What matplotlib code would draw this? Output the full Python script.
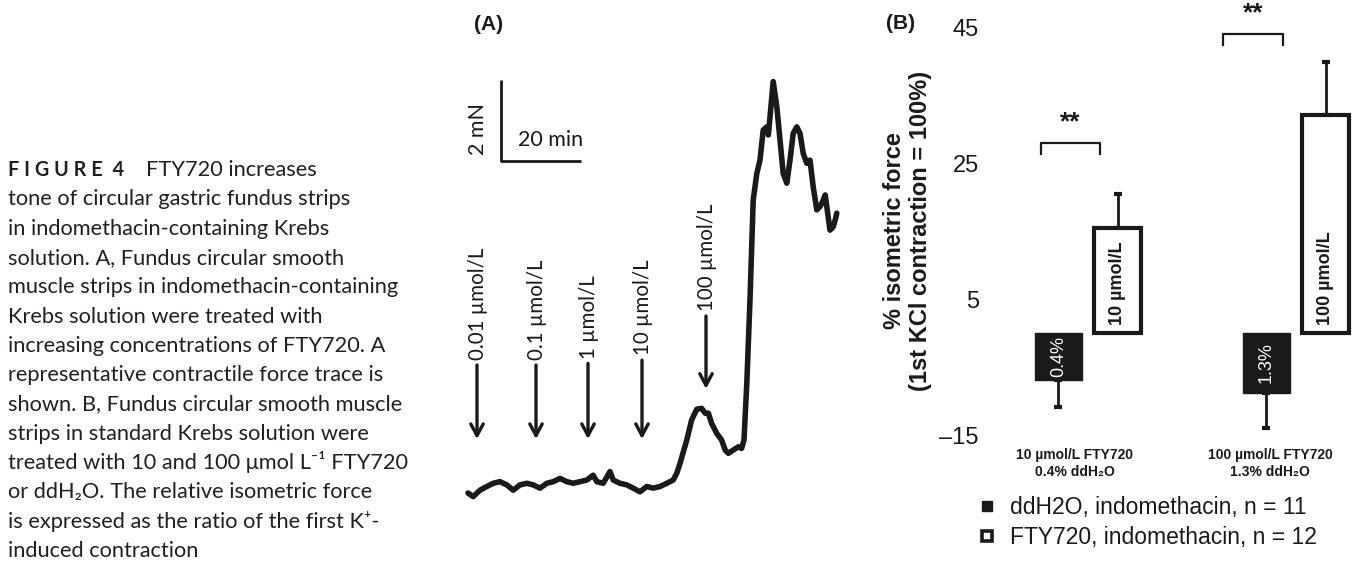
import matplotlib
matplotlib.use('Agg')
import matplotlib.pyplot as plt
from matplotlib.lines import Line2D
import numpy as np

plt.rcParams['font.family'] = ['Liberation Sans', 'DejaVu Sans']

INK = '#1a1a1a'

# ---------------- Panel A: representative contractile force trace ----------------
trace_time_min = [0.0, 1.3, 3.0, 4.7, 6.3, 8.0, 9.7, 11.3, 13.0, 14.7, 16.3, 18.0, 19.7,
                  21.3, 23.0, 24.7, 26.3, 28.0, 29.7, 31.3, 32.2, 33.8, 35.5, 36.3, 38.0,
                  39.7, 41.3, 43.0, 44.7, 46.3, 48.0, 49.7, 51.3, 52.2, 53.0, 54.7, 55.9,
                  57.2, 58.4, 59.3, 60.1, 60.9, 62.2, 63.4, 64.3, 65.1, 66.3, 67.6, 68.4,
                  69.0, 69.7, 70.5, 71.3, 72.2, 73.0, 73.8, 74.7, 75.1, 75.5, 76.3, 77.2,
                  78.0, 78.8, 79.7, 80.5, 81.3, 82.2, 83.0, 83.8, 84.7, 85.5, 86.3, 87.2,
                  88.0, 88.8, 89.3, 89.7, 90.5, 91.3, 91.8, 92.2]
trace_force_mN = [0.0, -0.09, 0.07, 0.16, 0.24, 0.28, 0.20, 0.07, 0.20, 0.24, 0.20, 0.12, 0.24,
                  0.28, 0.36, 0.28, 0.24, 0.28, 0.32, 0.44, 0.28, 0.24, 0.53, 0.32, 0.24,
                  0.20, 0.12, 0.03, 0.16, 0.12, 0.16, 0.24, 0.32, 0.49, 0.73, 1.31, 1.80,
                  2.07, 2.09, 1.97, 1.97, 1.72, 1.47, 1.31, 1.06, 0.98, 1.06, 1.14, 1.10,
                  1.31, 2.71, 4.77, 7.23, 7.89, 8.22, 8.96, 9.04, 8.84, 9.29, 10.16, 9.54,
                  8.72, 7.89, 7.65, 8.22, 8.88, 9.04, 8.88, 8.39, 8.14, 8.22, 7.56, 6.99,
                  7.07, 7.23, 7.36, 7.07, 6.49, 6.57, 6.74, 6.91]

dose_labels = ['0.01 µmol/L', '0.1 µmol/L', '1 µmol/L', '10 µmol/L', '100 µmol/L']
dose_time_min = [2.25, 17.0, 30.0, 43.5, 59.5]
arrow_tail_mN = [3.16, 3.16, 3.20, 3.28, 4.37]
arrow_tip_mN = [1.33, 1.33, 1.33, 1.33, 2.57]

scale_t0_min = 8.25
scale_f0_mN = 8.2
scale_len_min = 20
scale_len_mN = 2

# ---------------- Panel B: relative isometric force ----------------
group_labels = ['10 µmol/L FTY720', '100 µmol/L FTY720']
vehicle_labels = ['0.4% ddH₂O', '1.3% ddH₂O']
vehicle_pct = ['0.4%', '1.3%']
fty_conc = ['10 µmol/L', '100 µmol/L']
ddh2o_mean = [-6.9, -8.8]
ddh2o_err = [4.0, 5.1]
fty_mean = [15.4, 32.0]
fty_err = [5.0, 7.8]
y_ticks = [-15, 5, 25, 45]
sig_marks = ['**', '**']
legend_labels = ['ddH2O, indomethacin, n = 11', 'FTY720, indomethacin, n = 12']

caption_lines = [
    'tone of circular gastric fundus strips',
    'in indomethacin-containing Krebs',
    'solution. A, Fundus circular smooth',
    'muscle strips in indomethacin-containing',
    'Krebs solution were treated with',
    'increasing concentrations of FTY720. A',
    'representative contractile force trace is',
    'shown. B, Fundus circular smooth muscle',
    'strips in standard Krebs solution were',
    'treated with 10 and 100 μmol L⁻¹ FTY720',
    'or ddH₂O. The relative isometric force',
    'is expressed as the ratio of the first K⁺-',
    'induced contraction',
]

W, H = 1352, 561
fig = plt.figure(figsize=(W / 100, H / 100), dpi=100)
fig.patch.set_facecolor('white')

# ---- overlay for caption (pixel coordinates) ----
ov = fig.add_axes([0, 0, 1, 1])
ov.set_xlim(0, W)
ov.set_ylim(H, 0)
ov.axis('off')
cap_font = ['Lato', 'DejaVu Sans']
cap_col = '#231f20'
cap_size = 15.7
base0 = 176
step = 29.3
ov.text(8, base0, 'F I G U R E  4', fontsize=14.3, fontweight='bold',
        family=cap_font, color=cap_col, va='baseline', ha='left')
ov.text(146, base0, 'FTY720 increases', fontsize=cap_size, family=cap_font,
        color=cap_col, va='baseline', ha='left')
for i, line in enumerate(caption_lines):
    ov.text(8, base0 + step * (i + 1), line, fontsize=cap_size, family=cap_font,
            color=cap_col, va='baseline', ha='left')

# ---- Panel A ----
axA = fig.add_axes([440 / W, 0, 440 / W, 1])
axA.set_xlim(-7, 103)
axA.set_ylim(-1.679, 12.173)
axA.axis('off')
axA.plot(trace_time_min, trace_force_mN, color=INK, lw=4.0,
         solid_joinstyle='round', solid_capstyle='round')
lato = ['Lato', 'DejaVu Sans']
for lab, t, tail, tip in zip(dose_labels, dose_time_min, arrow_tail_mN, arrow_tip_mN):
    axA.annotate('', xy=(t, tip), xytext=(t, tail),
                 arrowprops=dict(arrowstyle='->,head_length=0.6,head_width=0.32',
                                 lw=2.4, color=INK, shrinkA=0, shrinkB=0,
                                 mutation_scale=14))
    axA.text(t + 0.2, tail + 0.12, lab, rotation=90, ha='center', va='bottom',
             fontsize=14.8, family=lato, color=INK)
# scale bar
axA.plot([scale_t0_min, scale_t0_min, scale_t0_min + scale_len_min],
         [scale_f0_mN + scale_len_mN, scale_f0_mN, scale_f0_mN],
         color=INK, lw=2.0, solid_capstyle='butt')
axA.text(scale_t0_min - 5.8, scale_f0_mN + 0.8, '2 mN', rotation=90, ha='center',
         va='center', fontsize=15.5, family=lato, color=INK)
axA.text(scale_t0_min + 4.2, scale_f0_mN + 0.52, '20 min', ha='left', va='center',
         fontsize=15.5, family=lato, color=INK)
axA.text(1.5, 11.58, '(A)', fontsize=15, fontweight='bold', ha='left', va='center',
         color=INK)

# ---- Panel B ----
axB = fig.add_axes([985 / W, 126 / H, 367 / W, 408 / H])
axB.set_xlim(-0.495, 1.269)
axB.set_ylim(-15, 45)
for s in axB.spines.values():
    s.set_visible(False)
axB.set_xticks([])
axB.set_yticks(y_ticks)
axB.set_yticklabels(['–15' if v < 0 else str(v) for v in y_ticks])
axB.tick_params(axis='y', length=0, labelsize=17, pad=4.5, labelcolor=INK)
axB.set_ylabel('% isometric force\n(1st KCl contraction = 100%)', fontsize=17,
               fontweight='bold', linespacing=1.2, labelpad=5, color=INK)

x = np.arange(len(group_labels))
off = 0.142
bw = 0.226
axB.bar(x - off, ddh2o_mean, width=bw, color=INK, edgecolor=INK, lw=1, zorder=2)
axB.bar(x + off, fty_mean, width=bw, color='white', edgecolor=INK, lw=3, zorder=2)
axB.errorbar(x - off, ddh2o_mean, yerr=[ddh2o_err, [0] * len(x)], fmt='none',
             ecolor=INK, elinewidth=2, capsize=3.2, capthick=3, zorder=1)
axB.errorbar(x + off, fty_mean, yerr=[[0] * len(x), fty_err], fmt='none',
             ecolor=INK, elinewidth=2, capsize=3.2, capthick=3, zorder=1)
for i in range(len(x)):
    axB.text(x[i] - off, ddh2o_mean[i] / 2, vehicle_pct[i], rotation=90, color='white',
             ha='center', va='center', fontsize=13)
    axB.text(x[i] + off, 1.2, fty_conc[i], rotation=90, color=INK, ha='center',
             va='bottom', fontsize=13, fontweight='bold')

# significance brackets
bracket_x = [(-0.226, 0.058), (0.649, 0.938)]
bracket_y = [27.9, 44.0]
for (x0, x1), yb, mark in zip(bracket_x, bracket_y, sig_marks):
    axB.plot([x0, x0, x1, x1], [yb - 1.6, yb, yb, yb - 1.6], color=INK, lw=1.6,
             clip_on=False)
    axB.text((x0 + x1) / 2, yb + 2.0, mark, ha='center', va='baseline', fontsize=19,
             fontweight='bold', color=INK, clip_on=False)

# group labels under the bars
label_x = [-0.0625, 0.875]
for lx, g, v in zip(label_x, group_labels, vehicle_labels):
    axB.text(lx, -17.9, g, ha='center', va='center', fontsize=10, fontweight='bold',
             color=INK, clip_on=False)
    axB.text(lx, -20.4, v, ha='center', va='center', fontsize=10, fontweight='bold',
             color=INK, clip_on=False)

axB.text(-0.971, 45.5, '(B)', fontsize=15, fontweight='bold', ha='left', va='center',
         color=INK, clip_on=False)

handles = [Line2D([], [], ls='', marker='s', markersize=7.5, color=INK),
           Line2D([], [], ls='', marker='s', markersize=7.5, markerfacecolor='white',
                  markeredgecolor=INK, markeredgewidth=2.6)]
axB.legend(handles, legend_labels, loc='upper left', bbox_to_anchor=(978 / W, 1 - 496 / H),
           bbox_transform=fig.transFigure, frameon=False, fontsize=16.5,
           handlelength=0.8, handletextpad=0.6, labelspacing=0.29, borderpad=0,
           borderaxespad=0, labelcolor=INK)

fig.savefig('out.png', dpi=100)
